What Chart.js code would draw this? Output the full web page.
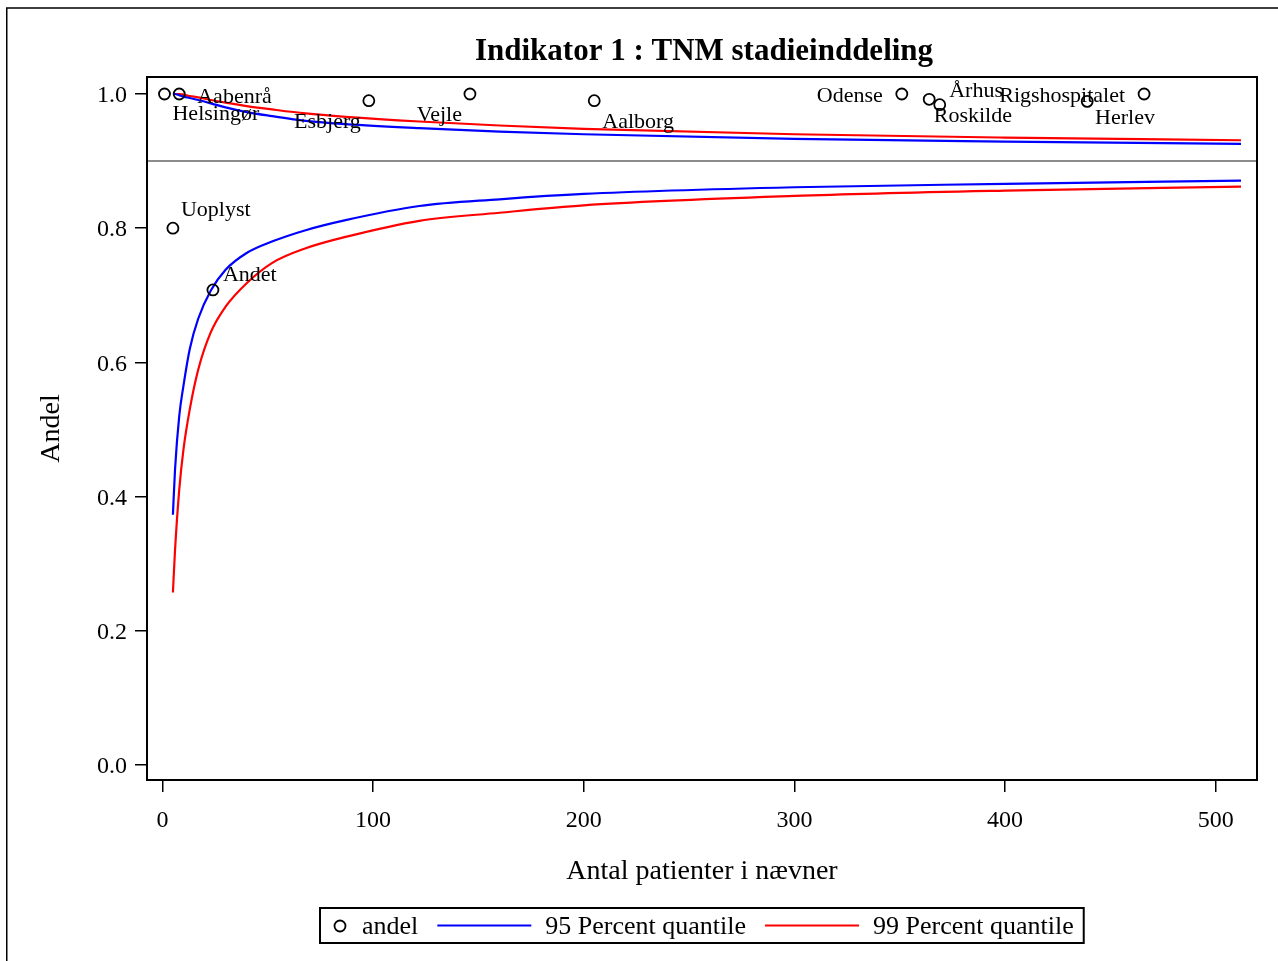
<!DOCTYPE html>
<html>
<head>
<meta charset="utf-8">
<script src="https://cdn.jsdelivr.net/npm/chart.js@4/dist/chart.umd.min.js"></script>
<style>
html,body{margin:0;padding:0;background:#fff;overflow:hidden}
#wrap{position:relative;width:1278px;height:961px}
</style>
</head>
<body>
<div id="wrap"><canvas id="c" width="1278" height="961"></canvas></div>
<script>
// ---- data ----
const hospitals = ['Helsingør','Aabenrå','Uoplyst','Andet','Esbjerg','Vejle','Aalborg','Odense','Århus','Roskilde','Rigshospitalet','Herlev'];
const patients  = [1, 8, 5, 24, 98, 146, 205, 351, 364, 369, 439, 466];
const andel     = [1.0, 1.0, 0.8, 0.708, 0.990, 1.0, 0.990, 1.0, 0.992, 0.984, 0.989, 1.0];

const limitN  = [5, 6, 8, 10, 13, 17, 23, 30, 40, 52, 68, 87, 122, 160, 200, 300, 400, 512];
const upper95 = [1.0, 1.0, 0.998, 0.996, 0.994, 0.991, 0.986, 0.980, 0.973, 0.967, 0.960, 0.955, 0.949, 0.944, 0.940, 0.933, 0.929, 0.9255];
const lower95 = [0.373, 0.44, 0.52, 0.565, 0.62, 0.665, 0.707, 0.738, 0.763, 0.780, 0.797, 0.812, 0.833, 0.843, 0.851, 0.861, 0.866, 0.871];
const upper99 = [1.0, 1.0, 1.0, 0.999, 0.997, 0.995, 0.991, 0.987, 0.982, 0.977, 0.971, 0.966, 0.959, 0.953, 0.948, 0.940, 0.935, 0.931];
const lower99 = [0.257, 0.32, 0.41, 0.47, 0.53, 0.589, 0.645, 0.683, 0.718, 0.748, 0.770, 0.787, 0.811, 0.823, 0.834, 0.848, 0.856, 0.862];

const targetValue = 0.9;
const xTickValues = [0, 100, 200, 300, 400, 500];
const yTickValues = [0.0, 0.2, 0.4, 0.6, 0.8, 1.0];

const titleText = 'Indikator 1 : TNM stadieinddeling';
const xTitle = 'Antal patienter i nævner';
const yTitle = 'Andel';
const legendLabels = ['andel', '95 Percent quantile', '99 Percent quantile'];

// ---- label placement (pixel offsets from each point; text baseline) ----
const labelPlacement = {
  'Helsingør':      {dx: 8,   dy: 26,  align: 'left'},
  'Aabenrå':        {dx: 18,  dy: 9,   align: 'left'},
  'Uoplyst':        {dx: 8,   dy: -12, align: 'left'},
  'Andet':          {dx: 10,  dy: -9,  align: 'left'},
  'Esbjerg':        {dx: -8,  dy: 27,  align: 'right'},
  'Vejle':          {dx: -8,  dy: 27,  align: 'right'},
  'Aalborg':        {dx: 8,   dy: 27,  align: 'left'},
  'Odense':         {dx: -19, dy: 8,   align: 'right'},
  'Århus':          {dx: 20,  dy: -2,  align: 'left'},
  'Roskilde':       {dx: -6,  dy: 17,  align: 'left'},
  'Rigshospitalet': {dx: -88, dy: 1,   align: 'left'},
  'Herlev':         {dx: -49, dy: 30,  align: 'left'}
};

const SERIF = "'Liberation Serif', 'Times New Roman', 'DejaVu Serif', serif";
Chart.defaults.font.family = SERIF;
Chart.defaults.color = '#000';

const xy = (xs, ys) => xs.map((x, i) => ({x: x, y: ys[i]}));

const lineDS = (label, ys, color) => ({
  type: 'line', label: label, data: xy(limitN, ys),
  borderColor: color, borderWidth: 2.2, pointRadius: 0, fill: false,
  cubicInterpolationMode: 'monotone', order: 2
});

const overlayPlugin = {
  id: 'overlay',
  beforeDraw(chart) {
    const c = chart.ctx;
    c.save();
    c.fillStyle = '#fff';
    c.fillRect(0, 0, chart.width, chart.height);
    c.strokeStyle = '#000';
    c.lineWidth = 1.5;
    c.strokeRect(6.75, 8, chart.width + 50, chart.height + 50);
    c.restore();
  },
  beforeDatasetsDraw(chart) {
    const c = chart.ctx, a = chart.chartArea, y = chart.scales.y.getPixelForValue(targetValue);
    c.save();
    c.strokeStyle = '#8c8c8c';
    c.lineWidth = 2;
    c.beginPath(); c.moveTo(a.left, y); c.lineTo(a.right, y); c.stroke();
    c.restore();
  },
  afterDraw(chart) {
    const c = chart.ctx, a = chart.chartArea, xs = chart.scales.x, ys = chart.scales.y;
    c.save();
    // frame of plot area
    c.strokeStyle = '#000'; c.lineWidth = 2;
    c.strokeRect(a.left, a.top, a.right - a.left, a.bottom - a.top);
    // title
    c.fillStyle = '#000';
    c.font = 'bold 31px ' + SERIF;
    c.textAlign = 'center'; c.textBaseline = 'alphabetic';
    c.fillText(titleText, (a.left + a.right) / 2 + 2, 60);
    // point labels
    c.font = '22px ' + SERIF;
    hospitals.forEach((h, i) => {
      const p = labelPlacement[h];
      const px = xs.getPixelForValue(patients[i]), py = ys.getPixelForValue(andel[i]);
      c.textAlign = p.align;
      c.fillText(h, px + p.dx, py + p.dy);
    });
    // legend
    c.font = '26px ' + SERIF;
    const w = legendLabels.map(t => c.measureText(t).width);
    const padL = 14, padR = 10, mark = 12, gapM = 16, lineLen = 94, gapBefore = 19, gapAfter = 14;
    const total = padL + mark + gapM + w[0] + gapBefore + lineLen + gapAfter + w[1] + gapBefore + lineLen + gapAfter + w[2] + padR;
    const left = Math.round((a.left + a.right) / 2 - total / 2);
    const top = 908, h = 35, cy = top + h / 2;
    c.strokeStyle = '#000'; c.lineWidth = 2;
    c.strokeRect(left, top, total, h);
    let x = left + padL;
    c.lineWidth = 1.8;
    c.beginPath(); c.arc(x + mark / 2, cy + 0.5, 5.5, 0, Math.PI * 2); c.stroke();
    x += mark + gapM;
    c.textAlign = 'left'; c.textBaseline = 'middle';
    const ty = cy + 2;
    c.fillText(legendLabels[0], x, ty);
    x += w[0] + gapBefore;
    [['#0000ff', 1], ['#ff0000', 2]].forEach(([col, k]) => {
      c.strokeStyle = col; c.lineWidth = 2;
      c.beginPath(); c.moveTo(x, cy); c.lineTo(x + lineLen, cy); c.stroke();
      x += lineLen + gapAfter;
      c.fillText(legendLabels[k], x, ty);
      x += w[k] + gapBefore;
    });
    c.restore();
  }
};

new Chart(document.getElementById('c'), {
  type: 'scatter',
  data: {
    datasets: [
      { label: 'andel', data: xy(patients, andel), showLine: false,
        pointStyle: 'circle', pointRadius: 5.5, pointBorderWidth: 1.8,
        borderColor: '#000', backgroundColor: 'rgba(0,0,0,0)', order: 1 },
      lineDS('95 Percent quantile', upper95, '#0000ff'),
      lineDS('95 Percent quantile (lower)', lower95, '#0000ff'),
      lineDS('99 Percent quantile', upper99, '#ff0000'),
      lineDS('99 Percent quantile (lower)', lower99, '#ff0000')
    ]
  },
  options: {
    responsive: false,
    animation: false,
    layout: { padding: { left: 0, right: 21, top: 77, bottom: 0 } },
    plugins: { legend: { display: false }, tooltip: { enabled: false } },
    scales: {
      x: {
        type: 'linear', min: -7.3, max: 519.6,
        afterBuildTicks: s => { s.ticks = xTickValues.map(v => ({value: v})); },
        afterFit: s => { s.height = 181; },
        ticks: { font: { size: 24 }, color: '#000', padding: 14, maxRotation: 0, callback: v => String(v) },
        grid: { drawOnChartArea: false, drawTicks: true, tickLength: 12, color: '#000', lineWidth: 1.5 },
        border: { display: true, color: '#000', width: 2 },
        title: { display: true, text: xTitle, font: { size: 28 }, color: '#000', padding: { top: 0, bottom: 73 } }
      },
      y: {
        type: 'linear', min: -0.0224, max: 1.0253,
        afterBuildTicks: s => { s.ticks = yTickValues.map(v => ({value: v})); },
        afterFit: s => { s.width = 147; },
        ticks: { font: { size: 24 }, color: '#000', padding: 8, labelOffset: 2, callback: v => Number(v).toFixed(1) },
        grid: { drawOnChartArea: false, drawTicks: true, tickLength: 12, color: '#000', lineWidth: 1.5 },
        border: { display: true, color: '#000', width: 2 },
        title: { display: true, text: yTitle, font: { size: 28 }, color: '#000', padding: { top: 35, bottom: 0 } }
      }
    }
  },
  plugins: [overlayPlugin]
});
</script>
</body>
</html>
